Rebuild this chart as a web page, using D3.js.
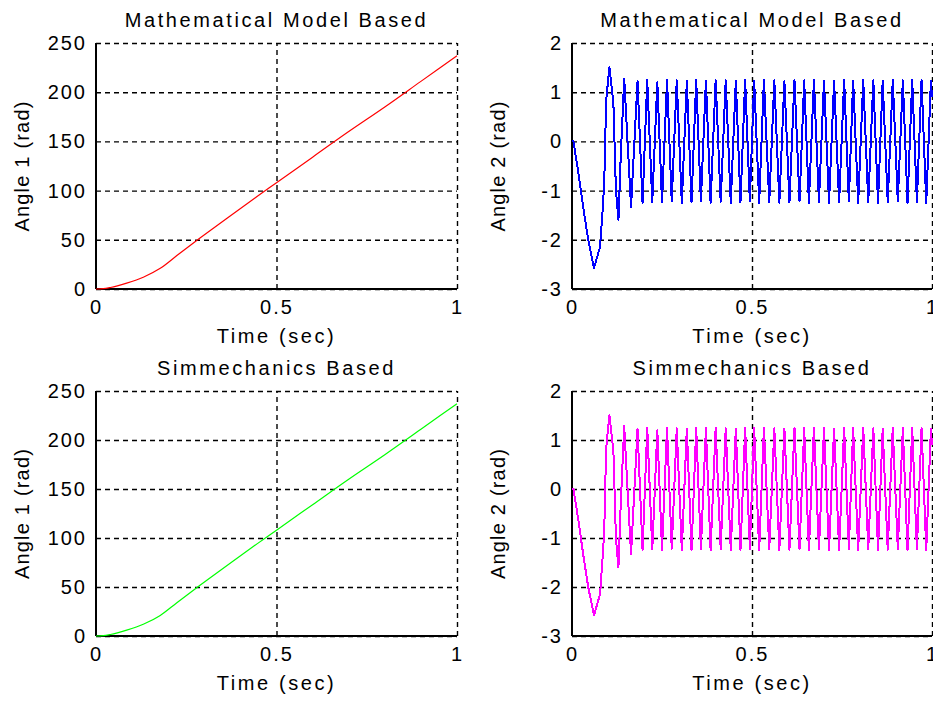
<!DOCTYPE html>
<html lang="en">
<head>
<meta charset="UTF-8">
<title>Angles</title>
<script src="https://d3js.org/d3.v7.min.js"></script>
<style>
    body { margin: 0; background: #fff; }
    text { font-family: "Liberation Sans", Arial, sans-serif; fill: #000; }
    .tick text { font-size: 20px; letter-spacing: 2px; }
    .title, .xlabel { font-size: 20px; letter-spacing: 2.6px; }
    .ylabel { font-size: 20px; letter-spacing: 1.2px; }
    .grid line { stroke: #000; stroke-width: 1.4; stroke-dasharray: 5,4; }
    .frame { stroke: #000; stroke-width: 2; }
    .series { fill: none; stroke-linejoin: round; }
    .aliased { shape-rendering: crispEdges; }
</style>
</head>
<body>
<script>
    const width = 933;
    const height = 702;

    // x ticks shared by all four plots
    const timeTicks = [0, 0.5, 1];
    const angle1Ticks = [0, 50, 100, 150, 200, 250];
    const angle2Ticks = [-3, -2, -1, 0, 1, 2];

    // angle 1 (rad) vs time (sec)
    const angle1Time = [0, 0.02, 0.04, 0.085, 0.131, 0.178, 0.224, 0.289, 0.363, 0.446, 0.5, 0.6, 0.7, 0.8, 0.9, 1.0];
    const angle1Math = [0, 0.3, 1.5, 6, 12, 21, 34, 52, 72, 94, 108, 134, 160, 185, 211, 237];
    const angle1Sim  = [0, 0.3, 1.5, 6, 12, 21, 34, 52, 72, 94, 108, 134, 160, 185, 211, 237];

    // angle 2 (rad) turning points vs time (sec)
    const angle2Time = [0, 0.004, 0.018, 0.031, 0.045, 0.061, 0.078, 0.087, 0.092, 0.094, 0.104, 0.115, 0.122, 0.129, 0.135, 0.145,
        0.164, 0.182, 0.196, 0.209, 0.223, 0.237, 0.250, 0.264, 0.277, 0.291, 0.305, 0.319, 0.332, 0.345, 0.358, 0.372,
        0.385, 0.399, 0.413, 0.427, 0.441, 0.455, 0.468, 0.481, 0.494, 0.506, 0.520, 0.533, 0.548, 0.562, 0.576, 0.590,
        0.604, 0.618, 0.632, 0.645, 0.658, 0.672, 0.686, 0.700, 0.714, 0.728, 0.742, 0.756, 0.769, 0.781, 0.795, 0.809,
        0.823, 0.837, 0.850, 0.863, 0.877, 0.891, 0.905, 0.919, 0.932, 0.945, 0.958, 0.971, 0.984, 0.997, 1.0];
    const angle2Math = [0, 0, -0.65, -1.33, -2.0, -2.58, -2.14, -1.19, -0.31, 0.77, 1.51, 0.77, -0.99, -1.6, -0.38, 1.28,
        -1.33, 1.22, -1.25, 1.25, -1.23, 1.2, -1.24, 1.25, -1.22, 1.24, -1.25, 1.23, -1.24, 1.25, -1.22, 1.24,
        -1.25, 1.25, -1.23, 1.24, -1.25, 1.23, -1.24, 1.25, -1.22, 1.24, -1.25, 1.25, -1.23, 1.24, -1.25, 1.23,
        -1.24, 1.25, -1.22, 1.24, -1.25, 1.25, -1.23, 1.24, -1.25, 1.23, -1.24, 1.25, -1.22, 1.24, -1.25, 1.25,
        -1.23, 1.24, -1.25, 1.23, -1.24, 1.25, -1.22, 1.24, -1.25, 1.25, -1.23, 1.24, -1.25, 1.23, 0.9];
    const angle2Sim = angle2Math.slice();

    const panels = [
        {title: "Mathematical Model Based", ylabel: "Angle 1 (rad)", t: angle1Time, v: angle1Math, yDomain: [0, 250], yTicks: angle1Ticks,
         color: "#ff0000", lw: 1.2, smooth: true, left: 96, right: 457, top: 43, bottom: 289},
        {title: "Mathematical Model Based", ylabel: "Angle 2 (rad)", t: angle2Time, v: angle2Math, yDomain: [-3, 2], yTicks: angle2Ticks,
         color: "#0000ff", lw: 2, smooth: false, left: 572, right: 932, top: 43, bottom: 289},
        {title: "Simmechanics Based", ylabel: "Angle 1 (rad)", t: angle1Time, v: angle1Sim, yDomain: [0, 250], yTicks: angle1Ticks,
         color: "#00ff00", lw: 1.2, smooth: true, left: 96, right: 457, top: 391, bottom: 636},
        {title: "Simmechanics Based", ylabel: "Angle 2 (rad)", t: angle2Time, v: angle2Sim, yDomain: [-3, 2], yTicks: angle2Ticks,
         color: "#ff00ff", lw: 2, smooth: false, left: 572, right: 932, top: 391, bottom: 636}
    ];

    const svg = d3.select("body").append("svg")
        .attr("width", width)
        .attr("height", height);

    panels.forEach(p => drawPanel(p));

    function drawPanel(p) {
        const x = d3.scaleLinear().domain([0, 1]).range([p.left, p.right]);
        const y = d3.scaleLinear().domain(p.yDomain).range([p.bottom, p.top]);
        const g = svg.append("g");

        // grid + tick labels
        const yAxis = g.append("g")
            .attr("class", "grid")
            .attr("transform", `translate(${p.left},0)`)
            .call(d3.axisLeft(y).tickValues(p.yTicks).tickFormat(d => String(d))
                .tickSizeInner(-(p.right - p.left)).tickSizeOuter(0).tickPadding(9));
        yAxis.select(".domain").remove();
        yAxis.selectAll("text").attr("font-size", null).attr("font-family", null);

        const xAxis = g.append("g")
            .attr("class", "grid")
            .attr("transform", `translate(0,${p.bottom})`)
            .call(d3.axisBottom(x).tickValues(timeTicks).tickFormat(d => String(d))
                .tickSizeInner(-(p.bottom - p.top)).tickSizeOuter(0).tickPadding(11));
        xAxis.select(".domain").remove();
        xAxis.selectAll("text").attr("font-size", null).attr("font-family", null);
        xAxis.selectAll(".tick").filter(d => d === 0).select("line").remove();

        // solid left and bottom axis lines
        g.append("line").attr("class", "frame")
            .attr("x1", p.left).attr("x2", p.left).attr("y1", p.top).attr("y2", p.bottom);
        g.append("line").attr("class", "frame")
            .attr("x1", p.left).attr("x2", p.right).attr("y1", p.bottom).attr("y2", p.bottom);

        const line = d3.line()
            .x((d, i) => x(p.t[i]))
            .y(d => y(d))
            .curve(p.smooth ? d3.curveMonotoneX : d3.curveLinear);

        g.append("path")
            .attr("class", p.smooth ? "series" : "series aliased")
            .attr("d", line(p.v))
            .attr("stroke", p.color)
            .attr("stroke-width", p.lw);

        g.append("text")
            .attr("class", "title")
            .attr("x", (p.left + p.right) / 2)
            .attr("y", p.top - 16)
            .attr("text-anchor", "middle")
            .text(p.title);

        g.append("text")
            .attr("class", "xlabel")
            .attr("x", (p.left + p.right) / 2)
            .attr("y", p.bottom + 54)
            .attr("text-anchor", "middle")
            .text("Time (sec)");

        g.append("text")
            .attr("class", "ylabel")
            .attr("transform", `translate(${p.left - 67},${(p.top + p.bottom) / 2}) rotate(-90)`)
            .attr("text-anchor", "middle")
            .text(p.ylabel);
    }
</script>
</body>
</html>
